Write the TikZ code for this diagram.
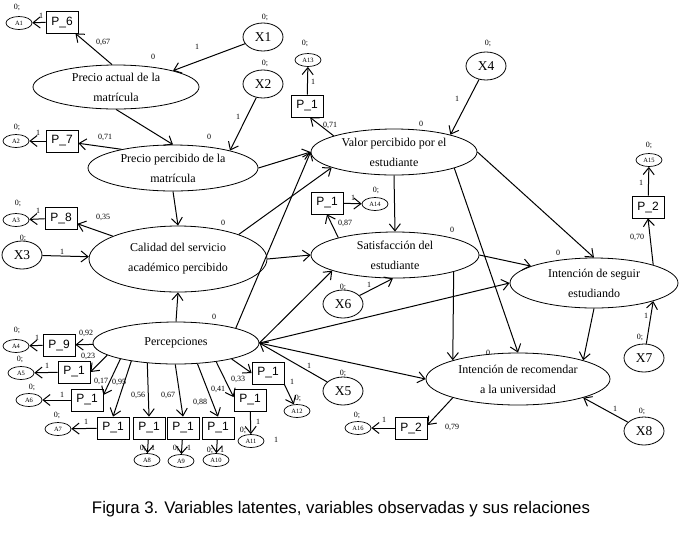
\documentclass[tikz,border=0pt]{standalone}
\usepackage{fontspec}
\setmainfont{Liberation Serif}
\setsansfont{Liberation Sans}
\usetikzlibrary{shapes.geometric,arrows.meta}

\begin{document}
\begin{tikzpicture}[x=1pt,y=-1pt,
			latnode/.style={draw, ellipse, line width=0.8pt, inner sep=0pt, align=center, font=\fontsize{12}{20}\selectfont},
			exonode/.style={draw, ellipse, line width=0.8pt, minimum width=40pt, minimum height=28pt, inner sep=0pt, font=\fontsize{13.5}{13.5}\selectfont},
			errnode/.style={draw, ellipse, line width=0.7pt, minimum width=26pt, minimum height=13pt, inner sep=0pt, font=\fontsize{6.5}{6.5}\selectfont},
			boxnode/.style={draw, rectangle, line width=0.8pt, minimum width=32pt, minimum height=22pt, inner sep=0pt, font=\sffamily\fontsize{12}{12}\selectfont},
			numnode/.style={inner sep=0pt, font=\fontsize{8}{8}\selectfont},
			arr/.style={line width=1pt, -{Straight Barb[length=7pt,width=11pt]}}
		]
		\useasboundingbox (0,0) rectangle (684,539);

		\node[latnode, minimum width=166pt, minimum height=44pt] (PA) at (116,87) {Precio actual de la\\matrícula};
		\node[latnode, minimum width=170pt, minimum height=46pt] (PP) at (173,168) {Precio percibido de la\\matrícula};
		\node[latnode, minimum width=178pt, minimum height=66pt] (CS) at (178,259) {Calidad del servicio\\académico percibido};
		\node[latnode, minimum width=166pt, minimum height=42pt] (PE) at (176,343) {Percepciones};
		\node[latnode, minimum width=166pt, minimum height=46pt] (VP) at (394,152) {Valor percibido por el\\estudiante};
		\node[latnode, minimum width=168pt, minimum height=46pt] (SE) at (395,255) {Satisfacción del\\estudiante};
		\node[latnode, minimum width=168pt, minimum height=50pt] (IS) at (594,283) {Intención de seguir\\estudiando};
		\node[latnode, minimum width=184pt, minimum height=52pt] (IR) at (518,379) {Intención de recomendar\\a la universidad};

		\node[exonode] (x1) at (263,37) {X1};
		\node[exonode] (x2) at (263,84) {X2};
		\node[exonode] (x3) at (22,255) {X3};
		\node[exonode] (x4) at (486,66) {X4};
		\node[exonode] (x5) at (343,391) {X5};
		\node[exonode] (x6) at (343,304) {X6};
		\node[exonode] (x7) at (644,358) {X7};
		\node[exonode] (x8) at (644,431) {X8};

		\node[boxnode] (p6) at (62,22) {P\_6};
		\node[boxnode] (p7) at (62,141) {P\_7};
		\node[boxnode] (p8) at (61,218) {P\_8};
		\node[boxnode] (p9) at (59,345) {P\_9};
		\node[boxnode] (p1a) at (74,372) {P\_1};
		\node[boxnode] (p1b) at (87,400) {P\_1};
		\node[boxnode] (p1c) at (113,428) {P\_1};
		\node[boxnode] (p1d) at (149,428) {P\_1};
		\node[boxnode] (p1e) at (183,428) {P\_1};
		\node[boxnode] (p1f) at (218,428) {P\_1};
		\node[boxnode] (p1g) at (250,400) {P\_1};
		\node[boxnode] (p1h) at (268,373) {P\_1};
		\node[boxnode] (p1v) at (307,106) {P\_1};
		\node[boxnode] (p1s) at (327,203) {P\_1};
		\node[boxnode] (p2s) at (648,207) {P\_2};
		\node[boxnode] (p2r) at (411,428) {P\_2};

		\node[errnode] (a1) at (19,23) {A1};
		\node[errnode] (a2) at (16,141) {A2};
		\node[errnode] (a3) at (16,220) {A3};
		\node[errnode] (a4) at (16,346) {A4};
		\node[errnode] (a5) at (21,373) {A5};
		\node[errnode] (a6) at (29,400) {A6};
		\node[errnode] (a7) at (58,429) {A7};
		\node[errnode] (a8) at (147,460) {A8};
		\node[errnode] (a9) at (181,461) {A9};
		\node[errnode] (a10) at (216,460) {A10};
		\node[errnode] (a11) at (251,441) {A11};
		\node[errnode] (a12) at (297,411) {A12};
		\node[errnode] (a13) at (308,60) {A13};
		\node[errnode] (a14) at (375,204) {A14};
		\node[errnode] (a15) at (649,160) {A15};
		\node[errnode] (a16) at (358,428) {A16};

		\draw[arr] (x1) -- (PA.16);
		\draw[arr] (x2) -- (PP.17);
		\draw[arr] (x3) -- (CS);
		\draw[arr] (x4) -- (VP.17);
		\draw[arr] (x5) -- (PE.east);
		\draw[arr] (x6) -- (SE.265);
		\draw[arr] (x7) -- (IS.-17);
		\draw[arr] (x8) -- (IR.-16);

		\draw[arr] (PA.100) -- (p6);
		\draw[arr] (PP.160) -- (p7);
		\draw[arr] (CS) -- (p8);
		\draw[arr] (PE) -- (p9);
		\draw[arr] (PE.190) -- (p1a.east);
		\draw[arr] (PE.196) -- (p1b.17);
		\draw[arr] (PE.202) -- (p1c.north);
		\draw[arr] (PE.215) -- (p1d.north);
		\draw[arr] (PE.268) -- (p1e.north);
		\draw[arr] (PE.316) -- (p1f.north);
		\draw[arr] (PE.335) -- (p1g.170);
		\draw[arr] (PE.344) -- (p1h.west);
		\draw[arr] (VP.165) -- (p1v.-75);
		\draw[arr] (SE.163) -- (p1s.south);
		\draw[arr] (IS.17) -- (p2s.south);
		\draw[arr] (IR.196) -- (p2r.10);

		\draw[arr] (p6) -- (a1);
		\draw[arr] (p7) -- (a2);
		\draw[arr] (p8) -- (a3);
		\draw[arr] (p9) -- (a4);
		\draw[arr] (p1a) -- (a5);
		\draw[arr] (p1b) -- (a6);
		\draw[arr] (p1c) -- (a7);
		\draw[arr] (p1d) -- (a8);
		\draw[arr] (p1e) -- (a9);
		\draw[arr] (p1f) -- (a10);
		\draw[arr] (p1g) -- (a11);
		\draw[arr] (p1h.south east) -- (a12);
		\draw[arr] (p1v) -- (a13);
		\draw[arr] (p1s) -- (a14);
		\draw[arr] (p2s) -- (a15);
		\draw[arr] (p2r) -- (a16);

		\draw[arr] (PA.south) -- (PP.north);
		\draw[arr] (PP.south) -- (CS.north);
		\draw[arr] (PE.north) -- (CS.south);
		\draw[arr] (PP.east) -- (VP.west);
		\draw[arr] (CS.22) -- (VP.194);
		\draw[arr] (CS.east) -- (SE.west);
		\draw[arr] (PE.14) -- (VP.west);
		\draw[arr] (PE.east) -- (SE.194);
		\draw[arr] (PE.east) -- (IS.west);
		\draw[arr] (PE.east) -- (IR.west);
		\draw[arr] (VP.south) -- (SE.north);
		\draw[arr] (VP.-15) -- (IR.north);
		\draw[arr] (VP.east) -- (IS.north);
		\draw[arr] (SE.-16) -- (IR.164);
		\draw[arr] (SE.east) -- (IS.165);
		\draw[arr] (IS.south) -- (IR.16);

		\foreach \nm/\xx/\yy in {a1/17/7, a2/17/127, a3/18/203, a4/17/330, a5/20/359, a6/32/387, a7/57/415, a8/143/448, a9/176/448, a10/210/450, a11/243/430, a12/298/398, a13/305/43, a14/376/190, a15/649/145, a16/357/415, x1/265/17, x2/265/63, x3/23/238, x4/488/43, x5/343/373, x6/343/287, x7/640/337, x8/642/411}
			\node[numnode] (z\nm) at (\xx,\yy) {0;};

		\foreach \nm/\xx/\yy in {a1/41/16, a2/38/133, a3/38/211, a4/37/338, a5/47/366, a6/62/395, a7/86/422, a8/153/448, a9/189/448, a10/222/450, a11/258/422, a12/292/382, a13/313/82, a14/353/198, a15/641/183, a16/384/420, x1/197/47, x2/238/117, x3/62/252, x4/457/99, x5/309/366, x6/369/285, x7/646/316, x8/615/409, s/276/440}
			\node[numnode] (u\nm) at (\xx,\yy) {1};

		\foreach \nm/\xx/\yy in {PA/153/57, PP/209/137, CS/223/223, PE/214/317, VP/421/124, SE/452/230, IS/558/253, IR/488/353}
			\node[numnode] (o\nm) at (\xx,\yy) {0};

		\node[numnode] (l6) at (103,42) {0,67};
		\node[numnode] (l7) at (105,137) {0,71};
		\node[numnode] (l8) at (103,217) {0,35};
		\node[numnode] (l9) at (86,333) {0,92};
		\node[numnode] (l1a) at (88,356) {0,23};
		\node[numnode] (l1b) at (101,381) {0,17};
		\node[numnode] (l1c) at (119,382) {0,95};
		\node[numnode] (l1d) at (138,395) {0,56};
		\node[numnode] (l1e) at (168,395) {0,67};
		\node[numnode] (l1f) at (200,402) {0,88};
		\node[numnode] (l1g) at (218,389) {0,41};
		\node[numnode] (l1h) at (238,379) {0,33};
		\node[numnode] (l1v) at (330,125) {0,71};
		\node[numnode] (l1s) at (345,223) {0,87};
		\node[numnode] (l2s) at (637,237) {0,70};
		\node[numnode] (l2r) at (452,427) {0,79};

		\node[font=\sffamily\fontsize{16.8}{18}\selectfont] (cap) at (341,509) {Figura 3. Variables latentes, variables observadas y sus relaciones};
	\end{tikzpicture}
\end{document}
